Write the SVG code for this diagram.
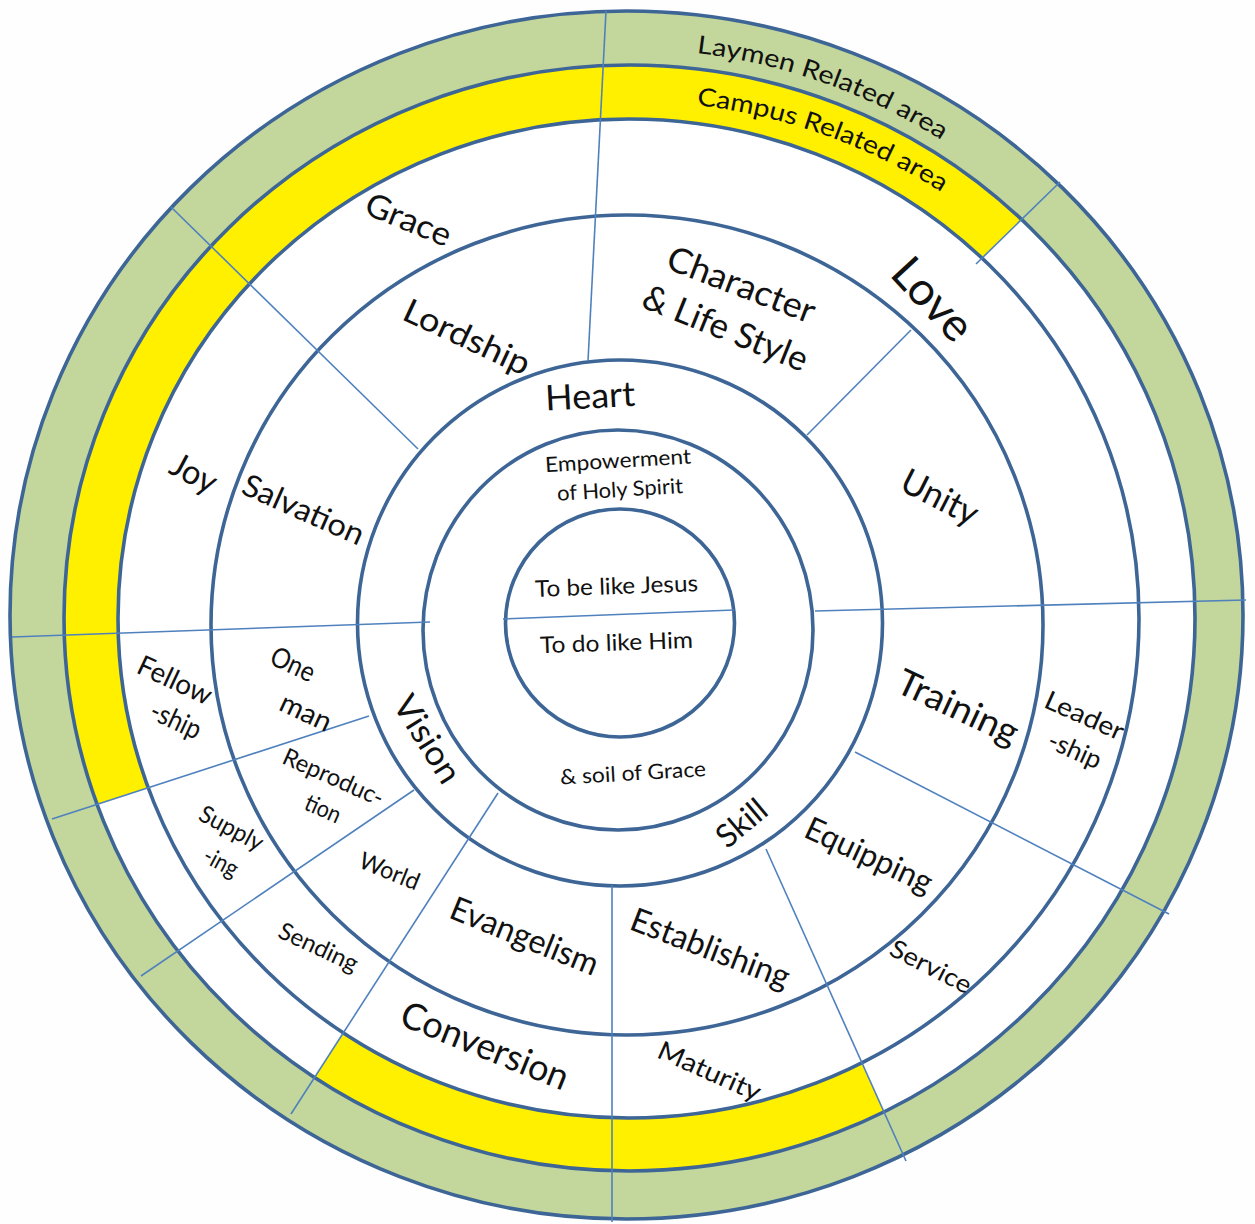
<svg xmlns="http://www.w3.org/2000/svg" width="1255" height="1224" viewBox="0 0 1255 1224">
<style>
.ring{fill:none;stroke:#3d6596;stroke-width:3.6}
.div{fill:none;stroke:#4f81bd;stroke-width:1.6}
.t{font-family:Lato,"Liberation Sans",sans-serif;fill:#111;text-anchor:middle}
</style>
<defs>
<clipPath id="clipTop"><polygon points="369,716 -265,922 -400,-500 1500,-500 1480,-228 976,264 620,618"/></clipPath>
<clipPath id="clipBot"><polygon points="620,618 498,793 -123,1756 1186,1785 766,849"/></clipPath>
<path id="arcL" d="M 526.6 57.6 A 578 567 0 0 1 1069.8 251.5"/>
<path id="arcC" d="M 526.6 109.6 A 578 567 0 0 1 1069.8 303.5"/>
<path id="annulus" fill-rule="evenodd" d="M 64 618 A 565.5 553 0 1 0 1195 618 A 565.5 553 0 1 0 64 618 Z M 118 618.5 A 510.5 499.5 0 1 0 1139 618.5 A 510.5 499.5 0 1 0 118 618.5 Z"/>
</defs>
<rect width="1255" height="1224" fill="#fefefe"/>
<g id="bands">
<ellipse cx="626.5" cy="615" rx="616.5" ry="604" fill="#c3d69b"/>
<ellipse cx="629.5" cy="618" rx="565.5" ry="553" fill="#ffffff"/>
<use href="#annulus" fill="#fff000" clip-path="url(#clipTop)"/>
<use href="#annulus" fill="#fff000" clip-path="url(#clipBot)"/>
</g>
<g id="rings">
<ellipse class="ring" cx="626.5" cy="615" rx="616.5" ry="604"/>
<ellipse class="ring" cx="629.5" cy="618" rx="565.5" ry="553"/>
<ellipse class="ring" cx="628.5" cy="618.5" rx="510.5" ry="499.5"/>
<ellipse class="ring" cx="627" cy="625" rx="416" ry="410"/>
<ellipse class="ring" cx="620" cy="623" rx="262.5" ry="263"/>
<ellipse class="ring" cx="618" cy="630" rx="195" ry="200"/>
<ellipse class="ring" cx="620" cy="623" rx="114.5" ry="114"/>
</g>
<g id="connectors">
<line class="div" x1="606" y1="11" x2="588" y2="361"/>
<line class="div" x1="171" y1="207" x2="418" y2="449"/>
<line class="div" x1="1060" y1="182" x2="976" y2="264"/>
<line class="div" x1="911" y1="330" x2="807" y2="435"/>
<line class="div" x1="815" y1="611" x2="1246" y2="600"/>
<line class="div" x1="12" y1="637" x2="430" y2="622"/>
<line class="div" x1="503" y1="619" x2="734" y2="610"/>
<line class="div" x1="52" y1="819" x2="369" y2="716"/>
<line class="div" x1="141" y1="976" x2="414" y2="790"/>
<line class="div" x1="291" y1="1114" x2="498" y2="793"/>
<line class="div" x1="612" y1="885" x2="612" y2="1222"/>
<line class="div" x1="766" y1="849" x2="906" y2="1161"/>
<line class="div" x1="855" y1="752" x2="1169" y2="914"/>
</g>
<g id="area-labels">
<text id="laymen" class="t" font-size="25"><textPath href="#arcL" startOffset="50%" textLength="262" lengthAdjust="spacingAndGlyphs">Laymen Related area</textPath></text>
<text id="campus" class="t" font-size="25"><textPath href="#arcC" startOffset="50%" textLength="262" lengthAdjust="spacingAndGlyphs">Campus Related area</textPath></text>
</g>
<g id="center">
<text class="t" font-size="23" dy="0.35em" transform="translate(616.5,586) rotate(-2)" textLength="163" lengthAdjust="spacingAndGlyphs">To be like Jesus</text>
<text class="t" font-size="23" dy="0.35em" transform="translate(616.5,642.5) rotate(-2)" textLength="153" lengthAdjust="spacingAndGlyphs">To do like Him</text>
</g>
<g id="ring2">
<text class="t" font-size="21" dy="0.35em" transform="translate(618,460.5) rotate(-3.5)" textLength="146" lengthAdjust="spacingAndGlyphs">Empowerment</text>
<text class="t" font-size="21" dy="0.35em" transform="translate(620,489.5) rotate(-3.5)" textLength="126" lengthAdjust="spacingAndGlyphs">of Holy Spirit</text>
<text class="t" font-size="21" dy="0.35em" transform="translate(633,773) rotate(-3.3)" textLength="146" lengthAdjust="spacingAndGlyphs">&amp; soil of Grace</text>
</g>
<g id="ring3">
<text class="t" font-size="35" dy="0.35em" transform="translate(590,396) rotate(-3)" textLength="90" lengthAdjust="spacingAndGlyphs">Heart</text>
<text class="t" font-size="34" dy="0.35em" transform="translate(427.5,739) rotate(58)" textLength="97" lengthAdjust="spacingAndGlyphs">Vision</text>
<text class="t" font-size="32" dy="0.35em" transform="translate(741.5,823) rotate(-40)" textLength="56" lengthAdjust="spacingAndGlyphs">Skill</text>
</g>
<g id="ring4">
<text class="t" font-size="33" dy="0.35em" transform="translate(467,337) rotate(25)" textLength="136" lengthAdjust="spacingAndGlyphs">Lordship</text>
<text class="t" font-size="35" dy="0.35em" transform="translate(741.5,284.5) rotate(21)" textLength="156" lengthAdjust="spacingAndGlyphs">Character</text>
<text class="t" font-size="35" dy="0.35em" transform="translate(725.5,328) rotate(22)" textLength="175" lengthAdjust="spacingAndGlyphs">&amp; Life Style</text>
<text class="t" font-size="35" dy="0.35em" transform="translate(940,497) rotate(27)" textLength="82" lengthAdjust="spacingAndGlyphs">Unity</text>
<text class="t" font-size="36" dy="0.35em" transform="translate(958,707) rotate(25)" textLength="130" lengthAdjust="spacingAndGlyphs">Training</text>
<text class="t" font-size="32" dy="0.35em" transform="translate(869,855) rotate(25)" textLength="137" lengthAdjust="spacingAndGlyphs">Equipping</text>
<text class="t" font-size="33" dy="0.35em" transform="translate(710.5,948) rotate(21)" textLength="168" lengthAdjust="spacingAndGlyphs">Establishing</text>
<text class="t" font-size="33" dy="0.35em" transform="translate(524.5,936) rotate(22)" textLength="157" lengthAdjust="spacingAndGlyphs">Evangelism</text>
<text class="t" font-size="24" dy="0.35em" transform="translate(389.5,871) rotate(22)" textLength="63" lengthAdjust="spacingAndGlyphs">World</text>
<text class="t" font-size="24" dy="0.35em" transform="translate(333.5,777) rotate(24)" textLength="108" lengthAdjust="spacingAndGlyphs">Reproduc-</text>
<text class="t" font-size="24" dy="0.35em" transform="translate(323,808.5) rotate(24)" textLength="37" lengthAdjust="spacingAndGlyphs">tion</text>
<text class="t" font-size="28" dy="0.35em" transform="translate(293,664) rotate(25)" textLength="46" lengthAdjust="spacingAndGlyphs">One</text>
<text class="t" font-size="28" dy="0.35em" transform="translate(306,712) rotate(25)" textLength="54" lengthAdjust="spacingAndGlyphs">man</text>
<text class="t" font-size="31" dy="0.35em" transform="translate(303.5,509.5) rotate(24)" textLength="130" lengthAdjust="spacingAndGlyphs">Salvation</text>
</g>
<g id="ring5">
<text class="t" font-size="33" dy="0.35em" transform="translate(408.5,219.5) rotate(22)" textLength="90" lengthAdjust="spacingAndGlyphs">Grace</text>
<text class="t" font-size="46" dy="0.35em" transform="translate(933,299) rotate(47)" textLength="96" lengthAdjust="spacingAndGlyphs">Love</text>
<text class="t" font-size="26" dy="0.35em" transform="translate(1084.5,715.5) rotate(24)" textLength="84" lengthAdjust="spacingAndGlyphs">Leader</text>
<text class="t" font-size="26" dy="0.35em" transform="translate(1075,750) rotate(24)" textLength="56" lengthAdjust="spacingAndGlyphs">-ship</text>
<text class="t" font-size="25" dy="0.35em" transform="translate(931,966.5) rotate(27)" textLength="88" lengthAdjust="spacingAndGlyphs">Service</text>
<text class="t" font-size="26" dy="0.35em" transform="translate(709.5,1071) rotate(24)" textLength="110" lengthAdjust="spacingAndGlyphs">Maturity</text>
<text class="t" font-size="37" dy="0.35em" transform="translate(485,1045.5) rotate(22)" textLength="178" lengthAdjust="spacingAndGlyphs">Conversion</text>
<text class="t" font-size="24" dy="0.35em" transform="translate(318.5,947) rotate(25)" textLength="85" lengthAdjust="spacingAndGlyphs">Sending</text>
<text class="t" font-size="24" dy="0.35em" transform="translate(231.5,828) rotate(28)" textLength="69" lengthAdjust="spacingAndGlyphs">Supply</text>
<text class="t" font-size="24" dy="0.35em" transform="translate(221,862) rotate(28)" textLength="36" lengthAdjust="spacingAndGlyphs">-ing</text>
<text class="t" font-size="28" dy="0.35em" transform="translate(175,680) rotate(25)" textLength="79" lengthAdjust="spacingAndGlyphs">Fellow</text>
<text class="t" font-size="28" dy="0.35em" transform="translate(176,720) rotate(25)" textLength="53" lengthAdjust="spacingAndGlyphs">-ship</text>
<text class="t" font-size="34" dy="0.35em" transform="translate(194,473) rotate(28)" textLength="48" lengthAdjust="spacingAndGlyphs">Joy</text>
</g>
</svg>
